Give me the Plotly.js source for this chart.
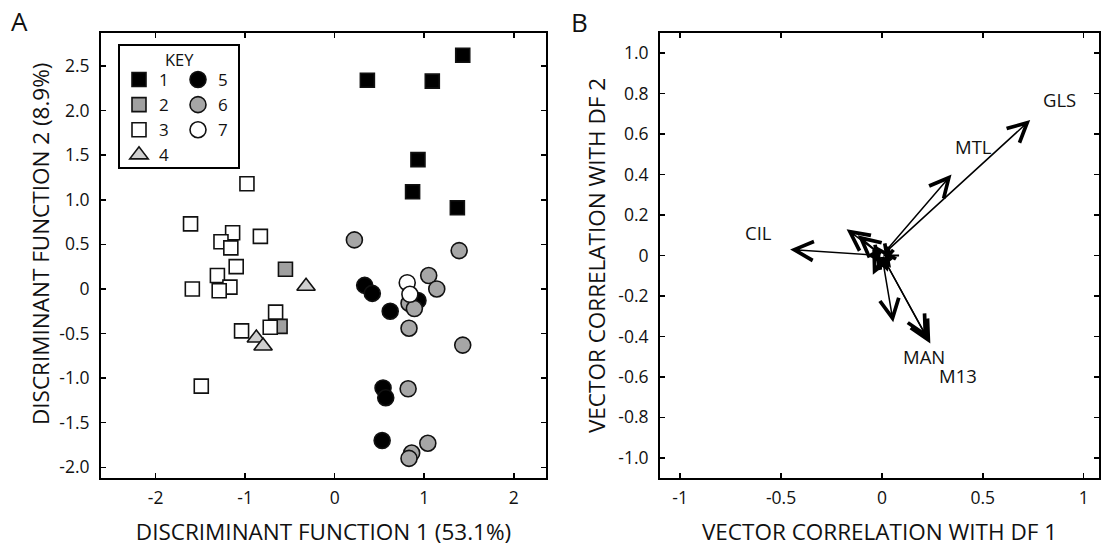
<!DOCTYPE html>
<html><head><meta charset="utf-8">
<script src="https://cdn.plot.ly/plotly-3.0.1.min.js"></script>
<style>body{margin:0;background:#fff}#c{width:1107px;height:548px}</style>
</head><body><div id="c"></div>
<script>
// Panel A: discriminant scores by group
const g1x=[1.43,0.365,1.09,0.93,0.87,1.37];
const g1y=[2.62,2.34,2.33,1.45,1.09,0.91];
const g2x=[-0.55,-0.61];
const g2y=[0.22,-0.42];
const g3x=[-0.98,-1.61,-1.14,-1.27,-1.16,-0.83,-1.10,-1.31,-1.17,-1.59,-1.29,-0.66,-0.72,-1.04,-1.49];
const g3y=[1.18,0.73,0.63,0.53,0.46,0.59,0.25,0.15,0.02,0.00,-0.02,-0.26,-0.43,-0.47,-1.09];
const g4x=[-0.32,-0.875,-0.80];
const g4y=[0.03,-0.55,-0.64];
const g5x=[0.335,0.42,0.62,0.93,0.54,0.57,0.53];
const g5y=[0.04,-0.05,-0.25,-0.13,-1.11,-1.22,-1.70];
const g6x=[0.22,1.39,1.05,1.14,0.83,0.89,0.83,1.43,0.82,1.04,0.86,0.83];
const g6y=[0.55,0.43,0.15,0.00,-0.16,-0.22,-0.44,-0.63,-1.12,-1.73,-1.84,-1.90];
const g7x=[0.81,0.84];
const g7y=[0.07,-0.06];
const groupNames=['1','2','3','4','5','6','7'];

// Panel B: vector correlations (arrow heads, tails at origin)
const vecX=[0.735,0.345,-0.455,0.24,0.225,0.056,-0.175,-0.12,-0.035,-0.045,0.03,0.045,-0.02];
const vecY=[0.67,0.40,0.03,-0.435,-0.41,-0.33,0.13,0.10,0.05,-0.095,-0.08,-0.06,-0.07];
const lineX=[0.085];
const lineY=[0.0];
const labelNames=['GLS','MTL','CIL','MAN','M13'];
const labelX=[0.88,0.453,-0.613,0.207,0.379];
const labelY=[0.77,0.54,0.114,-0.50,-0.593];

const xTicksA=[-2,-1,0,1,2];
const xTextA=['-2','-1','0','1','2'];
const yTicksA=[2.5,2.0,1.5,1.0,0.5,0,-0.5,-1.0,-1.5,-2.0];
const yTextA=['2.5','2.0','1.5','1.0','0.5','0','-0.5','-1.0','-1.5','-2.0'];
const xTicksB=[-1,-0.5,0,0.5,1];
const xTextB=['-1','-0.5','0','0.5','1'];
const yTicksB=[1.0,0.8,0.6,0.4,0.2,0,-0.2,-0.4,-0.6,-0.8,-1.0];
const yTextB=['1.0','0.8','0.6','0.4','0.2','0','-0.2','-0.4','-0.6','-0.8','-1.0'];

const FONT='Open Sans, sans-serif';
const TS=22.5;
const ol={color:'#111',width:1.6};
function sc(x,y,name,sym,size,fill,leg,rank){
  return {type:'scatter',mode:'markers',x:x,y:y,name:name,xaxis:'x',yaxis:'y',
    marker:{symbol:sym,size:size,color:fill,line:ol},legend:leg,legendrank:rank,hoverinfo:'x+y'};
}
const traces=[
  sc(g1x,g1y,groupNames[0],'square',14,'#000','legend',1),
  sc(g2x,g2y,groupNames[1],'square',14,'#a0a0a0','legend',2),
  sc(g3x,g3y,groupNames[2],'square',14,'#fff','legend',3),
  sc(g4x,g4y,groupNames[3],'triangle-up',16,'#cfcfcf','legend',4),
  sc(g5x,g5y,groupNames[4],'circle',16,'#000','legend2',1),
  sc(g6x,g6y,groupNames[5],'circle',16,'#a6a6a6','legend2',2),
  sc(g7x,g7y,groupNames[6],'circle',16,'#fff','legend2',3),
  {type:'scatter',mode:'markers',x:[0],y:[0],xaxis:'x2',yaxis:'y2',showlegend:false,
   marker:{size:1,color:'rgba(0,0,0,0)'},hoverinfo:'skip'}
];

const ann=[];
for(let i=0;i<vecX.length;i++){
  ann.push({xref:'x2',yref:'y2',axref:'x2',ayref:'y2',x:vecX[i],y:vecY[i],ax:0,ay:0,
    text:'',showarrow:true,arrowhead:5,arrowsize:2.5,arrowwidth:1.5,arrowcolor:'#000',standoff:0});
}
for(let i=0;i<lineX.length;i++){
  ann.push({xref:'x2',yref:'y2',axref:'x2',ayref:'y2',x:lineX[i],y:lineY[i],ax:0,ay:0,
    text:'',showarrow:true,arrowhead:0,arrowwidth:1.8,arrowcolor:'#000',standoff:0});
}
for(let i=0;i<labelNames.length;i++){
  ann.push({xref:'x2',yref:'y2',x:labelX[i],y:labelY[i],text:labelNames[i],showarrow:false,
    xanchor:'center',yanchor:'middle',font:{family:FONT,size:18.5,color:'#111'}});
}
function pa(px,py,txt,sz,ang){
  return {xref:'paper',yref:'paper',x:px/1107,y:(478-py)/445,text:txt,showarrow:false,textangle:ang||0,
    xanchor:'center',yanchor:'middle',font:{family:FONT,size:sz,color:'#111'}};
}
ann.push(pa(179,59,'KEY',16.5));
ann.push(pa(19,21,'A',26));
ann.push(pa(579,22,'B',26));
ann.push(pa(40,244,'DISCRIMINANT FUNCTION 2 (8.9%)',TS,-90));

function ax(dom,rng,tv,tt,title,standoff,anchor,tls){
  return {domain:dom,range:rng,tickvals:tv,ticktext:tt,ticks:'inside',ticklen:5,tickwidth:1.5,
    tickcolor:'#000',showline:true,linewidth:2,linecolor:'#000',mirror:'ticks',zeroline:false,
    showgrid:false,anchor:anchor,ticklabelstandoff:tls,
    tickfont:{family:FONT,size:17.5,color:'#111'},
    title:{text:title,font:{family:FONT,size:TS,color:'#111'},standoff:standoff}};
}
const layout={
  width:1107,height:548,margin:{l:0,r:0,t:33,b:70},paper_bgcolor:'#fff',plot_bgcolor:'#fff',
  font:{family:FONT,color:'#111'},
  xaxis:ax([101/1107,546/1107],[-2.61,2.36],xTicksA,xTextA,'DISCRIMINANT FUNCTION 1 (53.1%)',16,'y',3),
  yaxis:ax([0,1],[-2.12,2.87],yTicksA,yTextA,'',6,'x',6),
  xaxis2:ax([660/1107,1099/1107],[-1.10,1.076],xTicksB,xTextB,'VECTOR CORRELATION WITH DF 1',16,'y2',3),
  yaxis2:ax([0,1],[-1.1,1.1],yTicksB,yTextB,'VECTOR CORRELATION WITH DF 2',6,'x2',6),
  legend:{x:119/1107,xanchor:'left',y:(478-62)/445,yanchor:'top',bgcolor:'rgba(0,0,0,0)',
    font:{family:FONT,size:17,color:'#111'},itemwidth:30,borderwidth:0},
  legend2:{x:178/1107,xanchor:'left',y:(478-62)/445,yanchor:'top',bgcolor:'rgba(0,0,0,0)',
    font:{family:FONT,size:17,color:'#111'},itemwidth:30,borderwidth:0},
  shapes:[{type:'rect',xref:'paper',yref:'paper',x0:119/1107,x1:239/1107,y0:(478-168)/445,y1:(478-45)/445,
    line:{color:'#000',width:2},fillcolor:'rgba(0,0,0,0)'}],
  annotations:ann,
  showlegend:true
};
Plotly.newPlot('c',traces,layout,{displayModeBar:false,staticPlot:true});
</script>
</body></html>
